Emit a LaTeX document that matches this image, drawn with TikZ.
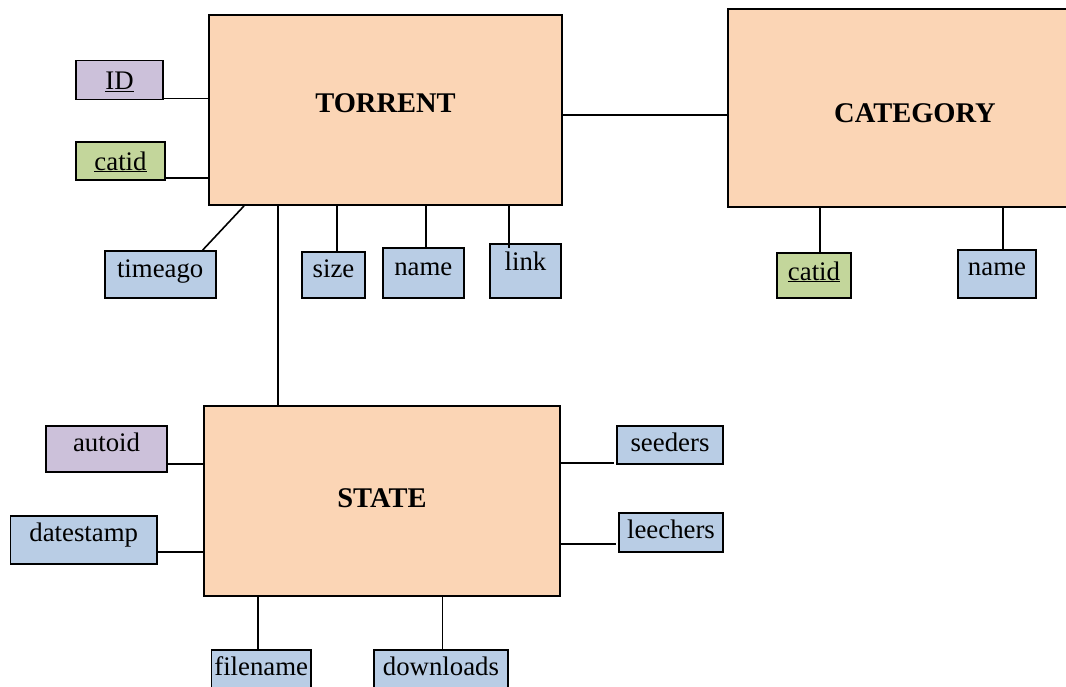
\documentclass[tikz,border=0pt]{standalone}
\usepackage{fontspec}
\setmainfont{Liberation Serif}
\definecolor{entfill}{HTML}{FBD5B5}
\definecolor{attblue}{HTML}{B9CDE5}
\definecolor{attpurple}{HTML}{CCC1DA}
\definecolor{attgreen}{HTML}{C3D69B}
\begin{document}
\begin{tikzpicture}[x=1pt,y=-1pt,
  entity/.style={draw=black, line width=1.9pt, fill=entfill, inner sep=0pt,
    font=\fontsize{28.5}{32}\selectfont\bfseries, text depth=10pt},
  attr/.style={draw=black, line width=1.9pt, inner sep=0pt,
    font=\fontsize{26.8}{30}\selectfont, text depth=10pt},
  blue/.style={attr, fill=attblue},
  purple/.style={attr, fill=attpurple},
  green/.style={attr, fill=attgreen},
  conn/.style={draw=black, line width=1.6pt}]
\useasboundingbox (0,0) rectangle (1066,686);
\clip (0,0) rectangle (1066,686);

% entities
\node[entity, minimum width=353pt, minimum height=190pt, text height=14.6pt] (torrent) at (385.5,110) {TORRENT};
\node[entity, minimum width=374pt, minimum height=198pt, text height=38pt] (category) at (915,108) {CATEGORY};
\node[entity, minimum width=356pt, minimum height=190pt, text height=22.6pt] (state) at (382,501) {STATE};

% torrent attributes
\node[purple, minimum width=87pt, minimum height=38pt, text height=29pt] (tid) at (119.5,80) {\underline{ID}};
\node[green, minimum width=89pt, minimum height=36pt, text height=28pt] (tcatid) at (120.5,161) {\underline{catid}};
\node[blue, minimum width=111pt, minimum height=47pt, text height=15pt] (timeago) at (160.2,274.5) {timeago};
\node[blue, minimum width=63pt, minimum height=46pt, text height=15.4pt] (size) at (333.5,275) {size};
\node[blue, minimum width=80.6pt, minimum height=50pt, text height=14pt] (tname) at (423.3,273) {name};
\node[blue, minimum width=71pt, minimum height=54pt, text height=9.4pt] (link) at (525.5,271) {link};

% category attributes
\node[green, minimum width=74pt, minimum height=45pt, text height=19pt] (ccatid) at (814,275.5) {\underline{catid}};
\node[blue, minimum width=78pt, minimum height=48pt, text height=12.6pt] (cname) at (997,274) {name};

% state attributes
\node[purple, minimum width=121pt, minimum height=46pt, text height=15.4pt] (autoid) at (106.5,449) {autoid};
\node[blue, minimum width=146.5pt, minimum height=48pt, text height=13.4pt] (datestamp) at (83.7,540) {datestamp};
\node[blue, minimum width=106pt, minimum height=38pt, text height=23.4pt] (seeders) at (670,445) {seeders};
\node[blue, minimum width=104pt, minimum height=39pt, text height=21.6pt] (leechers) at (671,532.5) {leechers};
\node[blue, minimum width=99.5pt, minimum height=50pt, text height=10pt] (filename) at (261.2,675) {filename};
\node[blue, minimum width=134pt, minimum height=50pt, text height=10pt] (downloads) at (441,675) {downloads};

% connectors
\draw[conn] (torrent.east |- 0,115) -- (category.west |- 0,115);
\draw[conn] (tid.east |- 0,98.5) -- (torrent.west |- 0,98.5);
\draw[conn] (tcatid.east |- 0,178) -- (torrent.west |- 0,178);
\draw[conn] (timeago.north -| 202.7,0) -- (torrent.south -| 244,0);
\draw[conn] (torrent.south -| 278,0) -- (state.north -| 278,0);
\draw[conn] (torrent.south -| 337,0) -- (size.north -| 337,0);
\draw[conn] (torrent.south -| 426,0) -- (tname.north -| 426,0);
\draw[conn] (torrent.south -| 509,0) -- (509,248);
\draw[conn] (category.south -| 820,0) -- (ccatid.north -| 820,0);
\draw[conn] (category.south -| 1003,0) -- (cname.north -| 1003,0);
\draw[conn] (autoid.east |- 0,464) -- (state.west |- 0,464);
\draw[conn] (datestamp.east |- 0,552) -- (state.west |- 0,552);
\draw[conn] (state.east |- 0,463) -- (614,463);
\draw[conn] (state.east |- 0,544) -- (616,544);
\draw[conn] (state.south -| 258,0) -- (filename.north -| 258,0);
\draw[conn] (state.south -| 442.5,0) -- (downloads.north -| 442.5,0);
\end{tikzpicture}
\end{document}
